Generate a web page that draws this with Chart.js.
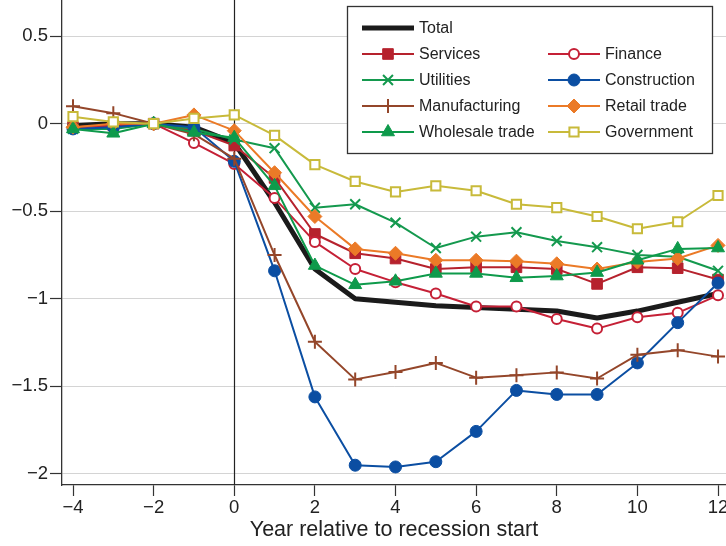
<!DOCTYPE html>
<html>
<head>
<meta charset="utf-8">
<script src="https://cdn.jsdelivr.net/npm/chart.js@4.4.0/dist/chart.umd.min.js"></script>
<style>
  html, body { margin: 0; padding: 0; background: #fff; }
  canvas { display: block; }
</style>
</head>
<body>
<canvas id="chart" width="726" height="546"></canvas>
<script>
// Years relative to the start of the recession
const years = [-4, -3, -2, -1, 0, 1, 2, 3, 4, 5, 6, 7, 8, 9, 10, 11, 12];
const xTickValues = [-4, -2, 0, 2, 4, 6, 8, 10, 12];
const yTickValues = [0.5, 0, -0.5, -1, -1.5, -2];

// Log change in employment by sector
const total         = [-0.01, 0.00, 0.00, -0.02, -0.11, -0.45, -0.83, -1.00, -1.02, -1.04, -1.05, -1.06, -1.07, -1.11, -1.07, -1.02, -0.97];
const services      = [-0.02, -0.01, 0.00, -0.04, -0.125, -0.31, -0.63, -0.74, -0.77, -0.83, -0.82, -0.82, -0.83, -0.915, -0.82, -0.825, -0.89];
const finance       = [-0.02, -0.01, 0.00, -0.11, -0.23, -0.425, -0.675, -0.83, -0.905, -0.97, -1.044, -1.044, -1.115, -1.17, -1.105, -1.08, -0.98];
const utilities     = [-0.03, -0.03, 0.00, -0.03, -0.09, -0.14, -0.48, -0.46, -0.565, -0.71, -0.645, -0.62, -0.67, -0.705, -0.75, -0.76, -0.84];
const construction  = [-0.03, -0.02, 0.00, -0.02, -0.215, -0.84, -1.56, -1.95, -1.96, -1.93, -1.757, -1.523, -1.546, -1.546, -1.366, -1.136, -0.91];
const manufacturing = [0.10, 0.06, 0.00, -0.06, -0.20, -0.75, -1.245, -1.46, -1.418, -1.366, -1.45, -1.437, -1.42, -1.455, -1.32, -1.293, -1.33];
const retail        = [-0.02, 0.00, 0.00, 0.05, -0.04, -0.28, -0.53, -0.715, -0.74, -0.78, -0.78, -0.785, -0.80, -0.83, -0.79, -0.77, -0.695];
const wholesale     = [-0.03, -0.055, 0.00, -0.05, -0.08, -0.355, -0.81, -0.92, -0.90, -0.855, -0.855, -0.88, -0.87, -0.85, -0.78, -0.715, -0.71];
const government    = [0.04, 0.01, 0.00, 0.03, 0.05, -0.067, -0.234, -0.33, -0.39, -0.355, -0.383, -0.46, -0.479, -0.53, -0.60, -0.56, -0.41];

const seriesNames = ['Total', 'Services', 'Finance', 'Utilities', 'Construction',
                     'Manufacturing', 'Retail trade', 'Wholesale trade', 'Government'];
const seriesValues = [total, services, finance, utilities, construction,
                      manufacturing, retail, wholesale, government];

const FONT = "'Liberation Sans', Arial, Helvetica, sans-serif";

// Line and marker style per series
const styles = [
  { color: '#1b1b1b', width: 5,  point: false, radius: 0 },
  { color: '#b6222d', width: 2,  point: 'rect',     radius: 7.5, fill: true },
  { color: '#c52036', width: 2,  point: 'circle',   radius: 5,   fill: false },
  { color: '#14994e', width: 2,  point: 'crossRot', radius: 7,   fill: false },
  { color: '#0b4ea2', width: 2,  point: 'circle',   radius: 6,   fill: true },
  { color: '#94462a', width: 2,  point: 'cross',    radius: 7,   fill: false },
  { color: '#eb7a27', width: 2,  point: 'rectRot',  radius: 7,   fill: true },
  { color: '#0e9a4b', width: 2,  point: 'triangle', radius: 7.5, fill: true },
  { color: '#c8ba3a', width: 2,  point: 'rect',     radius: 6.5, fill: false }
];

const datasets = seriesValues.map((vals, i) => {
  const s = styles[i];
  return {
    label: seriesNames[i],
    data: vals.map((v, j) => ({ x: years[j], y: v })),
    borderColor: s.color,
    borderWidth: s.width,
    borderJoinStyle: 'round',
    pointStyle: s.point,
    pointRadius: s.radius,
    pointHoverRadius: s.radius,
    pointBackgroundColor: s.fill ? s.color : '#ffffff',
    pointBorderColor: s.color,
    pointBorderWidth: s.fill && s.point !== 'crossRot' && s.point !== 'cross' ? 1 : 2,
    tension: 0,
    fill: false,
    order: seriesValues.length - i
  };
});

// Vertical reference line at the recession start
const zeroLine = {
  id: 'zeroLine',
  beforeDatasetsDraw(chart) {
    const { ctx, chartArea, scales } = chart;
    const x = Math.round(scales.x.getPixelForValue(0)) + 0.5;
    ctx.save();
    ctx.strokeStyle = '#222';
    ctx.lineWidth = 1.2;
    ctx.beginPath();
    ctx.moveTo(x, chartArea.top);
    ctx.lineTo(x, chartArea.bottom);
    ctx.stroke();
    ctx.restore();
  }
};

// Boxed legend in two columns, Total on its own first row
const boxLegend = {
  id: 'boxLegend',
  afterDraw(chart) {
    const ctx = chart.ctx;
    const box = { left: 347.5, top: 6.5, right: 712.5, bottom: 153.5 };
    ctx.save();
    ctx.fillStyle = '#fff';
    ctx.strokeStyle = '#333';
    ctx.lineWidth = 1.3;
    ctx.fillRect(box.left, box.top, box.right - box.left, box.bottom - box.top);
    ctx.strokeRect(box.left, box.top, box.right - box.left, box.bottom - box.top);

    const colX = [362, 548];
    const rowY0 = 28, rowStep = 26, sampleLen = 52, textGap = 5;
    ctx.font = `16px ${FONT}`;
    ctx.textBaseline = 'middle';
    ctx.textAlign = 'left';
    chart.data.datasets.forEach((ds, i) => {
      const row = i === 0 ? 0 : 1 + Math.floor((i - 1) / 2);
      const col = i === 0 ? 0 : (i - 1) % 2;
      const x0 = colX[col];
      const y = rowY0 + row * rowStep;
      ctx.strokeStyle = ds.borderColor;
      ctx.lineWidth = ds.borderWidth;
      ctx.lineCap = 'butt';
      ctx.beginPath();
      ctx.moveTo(x0, y);
      ctx.lineTo(x0 + sampleLen, y);
      ctx.stroke();
      if (ds.pointStyle) {
        ctx.fillStyle = ds.pointBackgroundColor;
        ctx.strokeStyle = ds.pointBorderColor;
        ctx.lineWidth = ds.pointBorderWidth;
        Chart.helpers.drawPoint(ctx, {
          pointStyle: ds.pointStyle,
          radius: ds.pointRadius,
          rotation: 0,
          borderWidth: ds.pointBorderWidth
        }, x0 + sampleLen / 2, y);
      }
      ctx.fillStyle = '#222';
      ctx.fillText(ds.label, x0 + sampleLen + textGap, y + 1);
    });
    ctx.restore();
  }
};

const minusFmt = v => (v < 0 ? '\u2212' + Math.abs(v) : String(v));

new Chart(document.getElementById('chart'), {
  type: 'line',
  data: { datasets },
  plugins: [zeroLine, boxLegend],
  options: {
    responsive: false,
    animation: false,
    devicePixelRatio: 1,
    layout: { padding: 0, autoPadding: false },
    plugins: { legend: { display: false }, tooltip: { enabled: false } },
    scales: {
      x: {
        type: 'linear',
        min: -4.273,
        max: 12.198,
        afterBuildTicks(scale) { scale.ticks = xTickValues.map(v => ({ value: v })); },
        afterFit(scale) { scale.height = 61; scale.paddingLeft = 0; scale.paddingRight = 0; },
        grid: { drawOnChartArea: false, tickLength: 11, tickColor: '#333', tickWidth: 1.2 },
        border: { color: '#333', width: 1.3 },
        ticks: {
          color: '#222', padding: 1, maxRotation: 0, autoSkip: false,
          font: { family: FONT, size: 18.5 },
          callback: minusFmt
        },
        title: {
          display: true,
          text: 'Year relative to recession start',
          color: '#222',
          font: { family: FONT, size: 21.5 },
          padding: { top: 0, bottom: 3 }
        }
      },
      y: {
        min: -2.063,
        max: 0.706,
        afterBuildTicks(scale) { scale.ticks = yTickValues.map(v => ({ value: v })); },
        afterFit(scale) { scale.width = 62; scale.paddingTop = 0; scale.paddingBottom = 0; },
        grid: { color: '#d4d4d4', lineWidth: 1, tickLength: 12, tickColor: '#333', tickWidth: 1.2 },
        border: { color: '#333', width: 1.3 },
        ticks: {
          color: '#222', padding: 2,
          font: { family: FONT, size: 18.5 },
          callback: minusFmt
        }
      }
    }
  }
});
</script>
</body>
</html>
